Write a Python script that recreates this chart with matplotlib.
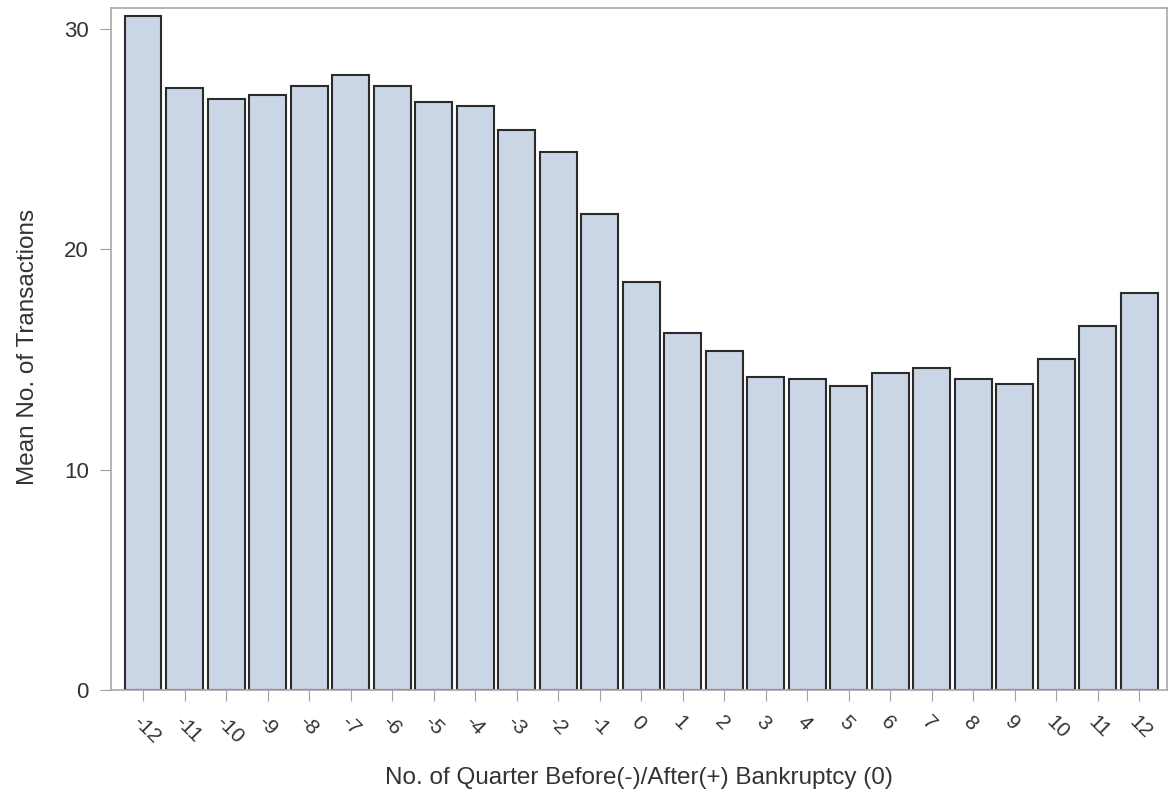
import numpy as np
import matplotlib.pyplot as plt

plt.rcParams['font.family'] = ['Liberation Sans', 'DejaVu Sans']

quarters = list(range(-12, 13))
mean_tx = [30.6, 27.3, 26.8, 27.0, 27.4, 27.9, 27.4, 26.7, 26.5, 25.4, 24.4,
           21.6, 18.5, 16.2, 15.4, 14.2, 14.1, 13.8, 14.4, 14.6, 14.1, 13.9,
           15.0, 16.5, 18.0]
tick_labels = [str(q) for q in quarters]

fig = plt.figure(figsize=(11.69, 8), dpi=100)
ax = fig.add_axes([0.095, 0.1375, 0.903, 0.8525])

x = np.arange(len(quarters))
ax.bar(x, mean_tx, width=0.89, color='#cad5e6', edgecolor='#2b2b2b', linewidth=1.5)

ax.set_xlim(-0.77, len(quarters) - 1 + 0.66)
ax.set_ylim(0, 30.95)
ax.set_yticks([0, 10, 20, 30])
ax.set_xticks(x)
ax.set_xticklabels(tick_labels, rotation=-45, ha='left', va='top',
                   rotation_mode='anchor', fontsize=15)
ax.tick_params(axis='y', labelsize=16, length=8, color='#a0a0a0',
               labelcolor='#333333', pad=8)
ax.tick_params(axis='x', length=8, color='#a0a0a0', labelcolor='#333333', pad=8)

for s in ax.spines.values():
    s.set_color('#a8a8a8')
    s.set_linewidth(1.2)

ax.set_ylabel('Mean No. of Transactions', fontsize=17.5, color='#333333')
ax.set_xlabel('No. of Quarter Before(-)/After(+) Bankruptcy (0)', fontsize=17.5,
              color='#333333')
ax.yaxis.label.set_va('center')
ax.xaxis.label.set_va('center')
ax.yaxis.set_label_coords(-0.079, 0.503)
ax.xaxis.set_label_coords(0.5, -0.129)

fig.savefig('out.png', dpi=100)
